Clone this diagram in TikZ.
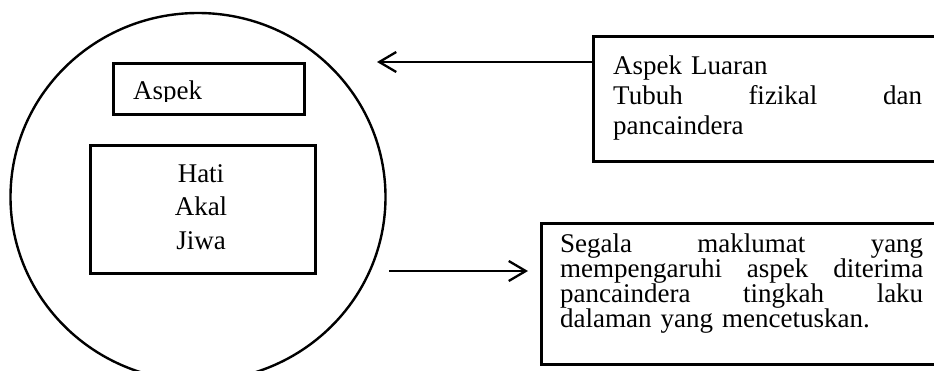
\documentclass[tikz,border=0pt]{standalone}
\usepackage{fontspec}
\setmainfont{Liberation Serif}
\usetikzlibrary{arrows.meta,shapes.geometric}
\begin{document}
\begin{tikzpicture}[x=1pt,y=-1pt,
  box/.style={draw, line width=2.6pt, rectangle, inner sep=0pt, anchor=north west},
  txt/.style={font=\fontsize{27}{30}\selectfont, inner sep=0pt},
  arr/.style={line width=2.3pt, -{Straight Barb[length=17pt,width=20pt]}}]
\useasboundingbox (0,0) rectangle (934,370);
\clip (0,0) rectangle (934,370);
% circle
\node[draw, ellipse, line width=2.4pt, minimum width=375pt, minimum height=368pt, inner sep=0pt] (circ) at (198,197) {};
% inner boxes
\node[box, minimum width=191pt, minimum height=51pt] (aspek) at (112,62) {};
\begin{scope}
\clip (112,62) rectangle (303,101.5);
\node[txt, anchor=base west] (aspekt) at (133,99) {Aspek};
\end{scope}
\node[box, minimum width=225pt, minimum height=128pt] (hati) at (89,144) {};
\node[txt, text width=120pt, align=center, anchor=base, font=\fontsize{27}{33.5}\selectfont] (hatit) at (201,182) {Hati\\Akal\\Jiwa};
% right boxes
\node[box, minimum width=360pt, minimum height=125pt] (luar) at (592,35) {};
\node[txt, text width=309pt, align=left, anchor=base west] (luart) at (613,74)
  {Aspek Luaran\\Tubuh\hfill fizikal\hfill dan\\pancaindera};
\node[box, minimum width=410pt, minimum height=141pt] (info) at (540,222) {};
\begin{scope}
\clip (540,222) rectangle (934,332);
\node[txt, text width=363pt, align=left, anchor=base west, font=\fontsize{27}{25}\selectfont] (infot) at (560,252.5)
  {Segala\hfill maklumat\hfill yang\\mempengaruhi\hfill aspek\hfill diterima\\pancaindera\hfill tingkah\hfill laku\\dalaman yang mencetuskan.};
\end{scope}
% arrows
\coordinate (tipA) at (377,62);
\draw[arr] ([yshift=-27pt]luar.north west) -- (tipA);
\coordinate (startB) at (389,271);
\coordinate (tipB) at (528,271);
\draw[arr] (startB) -- (tipB);
\end{tikzpicture}
\end{document}
